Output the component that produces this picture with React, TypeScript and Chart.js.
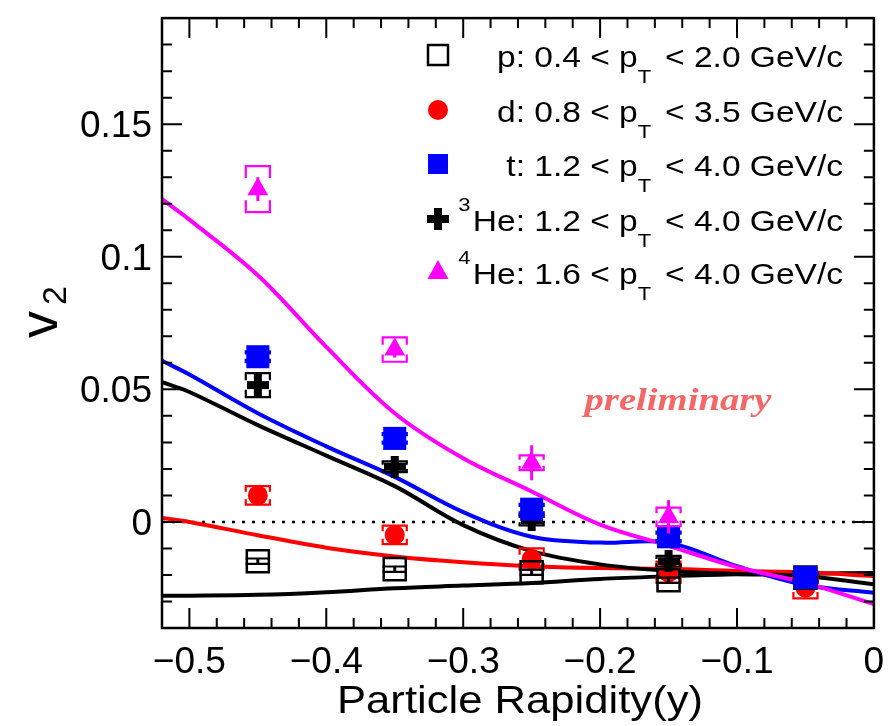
import React, { useEffect, useRef } from "react";
import { Chart, registerables } from "chart.js";
Chart.register(...registerables);

// ---------------- data ----------------
const rapidity = [-0.45, -0.35, -0.25, -0.15, -0.05];
const protonV2 = [-0.0148, -0.0178, -0.019, -0.022, -0.021];
const deuteronV2 = [0.01, -0.0049, -0.014, -0.019, -0.0248];
const tritonV2 = [0.0623, 0.0315, 0.0048, -0.0056, -0.021];
const he3V2 = [0.0516, 0.0208, 0.0007, -0.0148, -0.021];
const he4Rapidity = [-0.45, -0.35, -0.25, -0.15];
const he4V2 = [0.1255, 0.065, 0.0223, 0.0019];

const protonStat = [0.001, 0.001, 0.001, 0.001, 0.001];
const deuteronStat = [0.002, 0.002, 0.002, 0.002, 0.002];
const tritonStat = [0.002, 0.002, 0.002, 0.002, 0.002];
const he3Stat = [0.003, 0.003, 0.003, 0.003, 0.003];
const he4Stat = [0.0045, 0.003, 0.0066, 0.0063];

const protonSys = [0.001, 0.001, 0.001, 0.001, 0.001];
const deuteronSys = [0.0035, 0.0035, 0.004, 0.004, 0.004];
const tritonSys = [0.002, 0.002, 0.002, 0.002, 0.002];
const he3Sys = [0.0045, 0.002, 0.002, 0.002, 0.002];
const he4Sys = [0.0087, 0.0046, 0.0028, 0.0035];

const modelRapidity = [-0.52, -0.5, -0.45, -0.4, -0.35, -0.3, -0.25, -0.2, -0.15, -0.1, -0.05, 0];
const modelHe4 = [0.1217, 0.114, 0.093, 0.066, 0.041, 0.024, 0.0115, -0.001, -0.009, -0.017, -0.023, -0.031];
const modelTriton = [0.0608, 0.0556, 0.041, 0.0285, 0.017, 0.0037, -0.0056, -0.0078, -0.0078, -0.0167, -0.0238, -0.0267];
const modelHe3 = [0.0527, 0.049, 0.0365, 0.025, 0.0135, -0.0012, -0.011, -0.016, -0.0185, -0.0196, -0.0205, -0.0235];
const modelDeuteron = [0.0015, 0.0, -0.005, -0.0097, -0.013, -0.0152, -0.0167, -0.0174, -0.0177, -0.0185, -0.019, -0.0204];
const modelProton = [-0.0278, -0.0278, -0.0275, -0.0265, -0.025, -0.024, -0.023, -0.0215, -0.0205, -0.0197, -0.0195, -0.0193];

const xTickLabels = ["\u22120.5", "\u22120.4", "\u22120.3", "\u22120.2", "\u22120.1", "0"];
const yTickLabels = ["0", "0.05", "0.1", "0.15"];

const legendRows = [
  { sup: "", head: "p: 0.4 < p", tail: " < 2.0 GeV/c" },
  { sup: "", head: "d: 0.8 < p", tail: " < 3.5 GeV/c" },
  { sup: "", head: "t: 1.2 < p", tail: " < 4.0 GeV/c" },
  { sup: "3", head: "He: 1.2 < p", tail: " < 4.0 GeV/c" },
  { sup: "4", head: "He: 1.6 < p", tail: " < 4.0 GeV/c" },
];

const RED = "#ff0000";
const BLUE = "#0000ff";
const MAGENTA = "#ff00ff";
const BLACK = "#000000";
const SANS = "'Liberation Sans', Arial, sans-serif";

function plusCanvas(size: number, arm: number, color: string) {
  const c = document.createElement("canvas");
  c.width = size;
  c.height = size;
  const g = c.getContext("2d")!;
  g.fillStyle = color;
  g.fillRect((size - arm) / 2, 0, arm, size);
  g.fillRect(0, (size - arm) / 2, size, arm);
  return c;
}

function stretchText(ctx: CanvasRenderingContext2D, text: string, x: number, y: number, font: string, align: CanvasTextAlign, sx: number, color = BLACK) {
  ctx.save();
  ctx.font = font;
  ctx.fillStyle = color;
  ctx.textAlign = align;
  ctx.textBaseline = "alphabetic";
  ctx.translate(x, y);
  ctx.scale(sx, 1);
  ctx.fillText(text, 0, 0);
  ctx.restore();
}

export default function App() {
  const ref = useRef<HTMLCanvasElement | null>(null);

  useEffect(() => {
    document.body.style.margin = "0";
    const canvas = ref.current!;
    const plusImg = plusCanvas(22, 8, BLACK);

    const errInfo: Record<string, { xs: number[]; ys: number[]; stat: number[]; sys: number[]; color: string; hw: number }> = {
      p: { xs: rapidity, ys: protonV2, stat: protonStat, sys: protonSys, color: BLACK, hw: 0.008 },
      d: { xs: rapidity, ys: deuteronV2, stat: deuteronStat, sys: deuteronSys, color: RED, hw: 0.0088 },
      t: { xs: rapidity, ys: tritonV2, stat: tritonStat, sys: tritonSys, color: BLUE, hw: 0.0088 },
      he3: { xs: rapidity, ys: he3V2, stat: he3Stat, sys: he3Sys, color: BLACK, hw: 0.0088 },
      he4: { xs: he4Rapidity, ys: he4V2, stat: he4Stat, sys: he4Sys, color: MAGENTA, hw: 0.0088 },
    };

    const pts = (xs: number[], ys: number[]) => xs.map((x, i) => ({ x, y: ys[i] }));
    const curve = (ys: number[], color: string) => ({
      type: "line" as const,
      data: pts(modelRapidity, ys),
      showLine: true,
      borderColor: color,
      borderWidth: 4,
      pointRadius: 0,
      tension: 0.35,
      fill: false,
      order: 10,
    });

    const overlay = {
      id: "overlay",
      beforeDatasetsDraw(chart: any) {
        const ctx = chart.ctx as CanvasRenderingContext2D;
        const { left, right } = chart.chartArea;
        const y0 = chart.scales.y.getPixelForValue(0);
        ctx.save();
        ctx.strokeStyle = BLACK;
        ctx.lineWidth = 2.5;
        ctx.setLineDash([3, 7]);
        ctx.beginPath();
        ctx.moveTo(left, y0);
        ctx.lineTo(right, y0);
        ctx.stroke();
        ctx.restore();
      },
      beforeDatasetDraw(chart: any, args: any) {
        const key = chart.data.datasets[args.index].key;
        if (!key || !errInfo[key]) return;
        const info = errInfo[key];
        const ctx = chart.ctx as CanvasRenderingContext2D;
        const xs = chart.scales.x;
        const ysc = chart.scales.y;
        ctx.save();
        ctx.strokeStyle = info.color;
        info.xs.forEach((xv, i) => {
          const v = info.ys[i];
          const px = xs.getPixelForValue(xv);
          const st = ysc.getPixelForValue(v + info.stat[i]);
          const sb = ysc.getPixelForValue(v - info.stat[i]);
          ctx.lineWidth = 3;
          ctx.beginPath();
          ctx.moveTo(px, st);
          ctx.lineTo(px, sb);
          ctx.stroke();
          ctx.lineWidth = 2.2;
          const l = xs.getPixelForValue(xv - info.hw);
          const r = xs.getPixelForValue(xv + info.hw);
          const t = ysc.getPixelForValue(v + info.sys[i]);
          const b = ysc.getPixelForValue(v - info.sys[i]);
          const len = Math.min((b - t) * 0.3, 12);
          ctx.beginPath();
          ctx.moveTo(l, t + len);
          ctx.lineTo(l, t);
          ctx.lineTo(r, t);
          ctx.lineTo(r, t + len);
          ctx.moveTo(l, b - len);
          ctx.lineTo(l, b);
          ctx.lineTo(r, b);
          ctx.lineTo(r, b - len);
          ctx.stroke();
        });
        ctx.restore();
      },
      afterDraw(chart: any) {
        const ctx = chart.ctx as CanvasRenderingContext2D;
        const { left, right, top, bottom } = chart.chartArea;
        const xs = chart.scales.x;
        const ysc = chart.scales.y;
        ctx.save();
        ctx.strokeStyle = BLACK;
        ctx.lineWidth = 2.5;
        ctx.strokeRect(left, top, right - left, bottom - top);
        ctx.lineWidth = 2;
        ctx.beginPath();
        for (let k = -25; k < 0; k++) {
          const v = k * 0.02;
          const major = k % 5 === 0;
          const len = major ? 20 : 10;
          const px = xs.getPixelForValue(v);
          ctx.moveTo(px, bottom);
          ctx.lineTo(px, bottom - len);
          ctx.moveTo(px, top);
          ctx.lineTo(px, top + len);
        }
        for (let k = -3; k < 19; k++) {
          const v = k * 0.01;
          const major = k % 5 === 0;
          const len = major ? 20 : 10;
          const py = ysc.getPixelForValue(v);
          ctx.moveTo(left, py);
          ctx.lineTo(left + len, py);
          ctx.moveTo(right, py);
          ctx.lineTo(right - len, py);
        }
        ctx.stroke();

        const tickFont = `37px ${SANS}`;
        xs.ticks.forEach((t: any, i: number) => {
          const px = xs.getPixelForValue(t.value);
          stretchText(ctx, xTickLabels[i] ?? String(t.value), px, bottom + 45, tickFont, "center", 1.0);
        });
        ysc.ticks.forEach((t: any, i: number) => {
          const py = ysc.getPixelForValue(t.value);
          stretchText(ctx, yTickLabels[i] ?? String(t.value), left - 10, py + 13, tickFont, "right", 1.0);
        });

        const tf = `38px ${SANS}`;
        ctx.font = tf;
        const tw = ctx.measureText("Particle Rapidity(y)").width;
        stretchText(ctx, "Particle Rapidity(y)", 520, bottom + 85, tf, "center", 366 / tw);

        ctx.save();
        ctx.translate(57, 338);
        ctx.rotate(-Math.PI / 2);
        ctx.fillStyle = BLACK;
        ctx.font = `54px ${SANS}`;
        ctx.textAlign = "left";
        ctx.fillText("v", 0, 0);
        const vw = ctx.measureText("v").width;
        ctx.font = `34px ${SANS}`;
        ctx.fillText("2", vw + 6, 9);
        ctx.restore();

        const pf = `bold italic 31px 'Liberation Serif', 'Times New Roman', serif`;
        ctx.font = pf;
        const pw = ctx.measureText("preliminary").width;
        stretchText(ctx, "preliminary", 678, 410, pf, "center", 187 / pw, "rgba(240,60,60,0.78)");

        const F = 29;
        const main = `${F}px ${SANS}`;
        const small = `${Math.round(F * 0.65)}px ${SANS}`;
        ctx.font = main;
        const w1 = ctx.measureText(legendRows[0].head + legendRows[0].tail).width;
        ctx.font = small;
        const wT = ctx.measureText("T").width;
        const LSX = 346 / (w1 + wT + 4);
        const rowY = [55, 110, 164, 219, 272];
        const textRight = 843;
        legendRows.forEach((row, i) => {
          const base = rowY[i] + 12;
          ctx.font = main;
          const wh = ctx.measureText(row.head).width;
          const wt = ctx.measureText(row.tail).width;
          ctx.font = small;
          const ws = row.sup ? ctx.measureText(row.sup).width + 2 : 0;
          const total = (wh + wT + 4 + wt + ws) * LSX;
          let x = textRight - total;
          if (row.sup) {
            stretchText(ctx, row.sup, x, base - 20, small, "left", LSX);
            x += ws * LSX;
          }
          stretchText(ctx, row.head, x, base, main, "left", LSX);
          x += wh * LSX;
          stretchText(ctx, "T", x, base + 16, small, "left", LSX);
          x += (wT + 4) * LSX;
          stretchText(ctx, row.tail, x, base, main, "left", LSX);
        });
        const mx = 438;
        ctx.lineWidth = 2.5;
        ctx.strokeStyle = BLACK;
        ctx.strokeRect(mx - 10, rowY[0] - 10, 20, 20);
        ctx.fillStyle = RED;
        ctx.beginPath();
        ctx.arc(mx, rowY[1], 10, 0, Math.PI * 2);
        ctx.fill();
        ctx.fillStyle = BLUE;
        ctx.fillRect(mx - 10, rowY[2] - 10, 20, 20);
        ctx.drawImage(plusImg, mx - 11, rowY[3] - 11);
        ctx.fillStyle = MAGENTA;
        ctx.beginPath();
        ctx.moveTo(mx, rowY[4] - 12);
        ctx.lineTo(mx + 10.5, rowY[4] + 7);
        ctx.lineTo(mx - 10.5, rowY[4] + 7);
        ctx.closePath();
        ctx.fill();
        ctx.restore();
      },
    };

    const chart = new Chart(canvas, {
      type: "scatter",
      data: {
        datasets: [
          { key: "he4", label: "4He", data: pts(he4Rapidity, he4V2), pointStyle: "triangle", pointRadius: 12, backgroundColor: MAGENTA, borderColor: MAGENTA, borderWidth: 0, order: 1 } as any,
          { key: "t", label: "t", data: pts(rapidity, tritonV2), pointStyle: "rect", pointRadius: 16.3, backgroundColor: BLUE, borderColor: BLUE, borderWidth: 0, order: 2 } as any,
          { key: "he3", label: "3He", data: pts(rapidity, he3V2), pointStyle: plusImg, pointRadius: 11, backgroundColor: BLACK, borderColor: BLACK, order: 3 } as any,
          { key: "p", label: "p", data: pts(rapidity, protonV2), pointStyle: "rect", pointRadius: 15.6, backgroundColor: "rgba(0,0,0,0)", borderColor: BLACK, borderWidth: 2.5, order: 4 } as any,
          { key: "d", label: "d", data: pts(rapidity, deuteronV2), pointStyle: "circle", pointRadius: 10, backgroundColor: RED, borderColor: RED, borderWidth: 0, order: 5 } as any,
          curve(modelHe4, MAGENTA),
          curve(modelTriton, BLUE),
          curve(modelHe3, BLACK),
          curve(modelDeuteron, RED),
          curve(modelProton, BLACK),
        ],
      },
      options: {
        responsive: false,
        animation: false,
        devicePixelRatio: 1,
        layout: { padding: { top: 8, right: 15, left: 0, bottom: 0 } },
        plugins: { legend: { display: false }, tooltip: { enabled: false } },
        scales: {
          x: {
            type: "linear",
            min: -0.52,
            max: 0,
            ticks: { display: false, stepSize: 0.1, includeBounds: false },
            grid: { display: false, drawTicks: false },
            border: { display: false },
            afterFit: (s: any) => { s.height = 98; },
          },
          y: {
            type: "linear",
            min: -0.04,
            max: 0.19,
            ticks: { display: false, stepSize: 0.05, includeBounds: false },
            grid: { display: false, drawTicks: false },
            border: { display: false },
            afterFit: (s: any) => { s.width = 162; },
          },
        },
      },
      plugins: [overlay],
    } as any);
    return () => chart.destroy();
  }, []);

  return (
    <div style={{ width: 892, height: 726, background: "#fff" }}>
      <canvas ref={ref} width={892} height={726} style={{ display: "block" }} />
    </div>
  );
}
